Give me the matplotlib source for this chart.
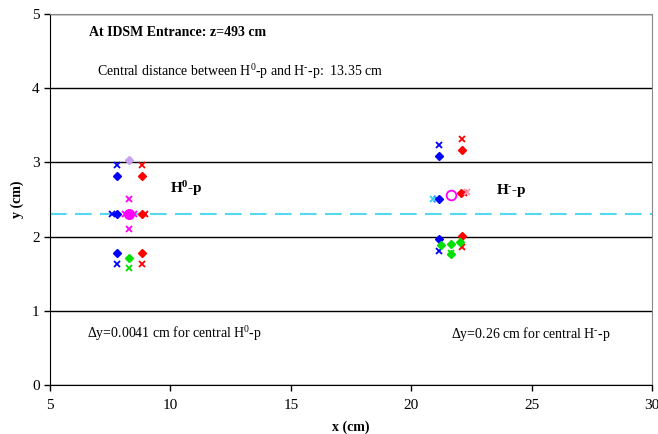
import matplotlib
matplotlib.use("Agg")
import matplotlib.pyplot as plt

plt.rcParams["font.family"] = ["Liberation Serif", "DejaVu Serif"]
plt.rcParams["mathtext.fontset"] = "custom"
plt.rcParams["mathtext.rm"] = "Liberation Serif"
plt.rcParams["mathtext.bf"] = "Liberation Serif:bold"
plt.rcParams["mathtext.it"] = "Liberation Serif:italic"

# H0-p beamlets (left group)
h0_blue_x = [7.79, 7.59, 7.79]
h0_blue_y = [2.96, 2.30, 1.63]
h0_blue_d_x = [7.79, 7.79, 7.79]
h0_blue_d_y = [2.82, 2.30, 1.78]
h0_red_x = [8.82, 8.96, 8.82]
h0_red_y = [2.96, 2.30, 1.63]
h0_red_d_x = [8.82, 8.82, 8.82]
h0_red_d_y = [2.82, 2.30, 1.78]
h0_mag_x = [8.29, 8.11, 8.49, 8.29]
h0_mag_y = [2.51, 2.30, 2.30, 2.10]
h0_lav_x = [8.29]
h0_lav_y = [3.03]
h0_green_d_x = [8.29]
h0_green_d_y = [1.71]
h0_green_x = [8.29]
h0_green_y = [1.58]
h0_center = (8.29, 2.30)

# H-p beamlets (right group)
hm_blue_x = [21.15, 21.07, 21.15]
hm_blue_y = [3.24, 2.51, 1.81]
hm_blue_d_x = [21.15, 21.15, 21.15]
hm_blue_d_y = [3.09, 2.51, 1.97]
hm_cyan_x = [20.92]
hm_cyan_y = [2.51]
hm_red_x = [22.12, 22.17, 22.10]
hm_red_y = [3.32, 2.59, 1.86]
hm_red_d_x = [22.10, 22.05, 22.10]
hm_red_d_y = [3.16, 2.59, 2.01]
hm_pink_x = [22.30]
hm_pink_y = [2.60]
hm_green_d_x = [21.25, 21.64, 22.03, 21.64]
hm_green_d_y = [1.88, 1.90, 1.92, 1.76]
hm_green_x = [21.64]
hm_green_y = [1.78]
hm_center = (21.64, 2.56)

ref_y = 2.30

fig = plt.figure(figsize=(6.58, 4.34), dpi=100)
ax = fig.add_axes([0.076, 0.113, 0.915, 0.855])

ax.axhline(ref_y, color="#55d8f0", lw=1.5, dashes=(8, 4), zorder=2)

ms = 5
ds = 4
ax.plot(h0_blue_x, h0_blue_y, "x", color="blue", ms=ms, mew=1.3, ls="none")
ax.plot(h0_blue_d_x, h0_blue_d_y, "D", color="blue", ms=ds, ls="none")
ax.plot(h0_red_x, h0_red_y, "x", color="red", ms=ms, mew=1.3, ls="none")
ax.plot(h0_red_d_x, h0_red_d_y, "D", color="red", ms=ds, ls="none")
ax.plot(h0_mag_x, h0_mag_y, "x", color="magenta", ms=ms, mew=1.3, ls="none")
ax.plot(h0_lav_x, h0_lav_y, "D", color="#c8a0f0", ms=ds, ls="none")
ax.plot(h0_green_d_x, h0_green_d_y, "D", color="#00e000", ms=ds, ls="none")
ax.plot(h0_green_x, h0_green_y, "x", color="#00e000", ms=ms, mew=1.3, ls="none")
ax.plot([h0_center[0]], [h0_center[1]], "o", color="magenta", ms=7, ls="none")

ax.plot(hm_blue_x, hm_blue_y, "x", color="blue", ms=ms, mew=1.3, ls="none")
ax.plot(hm_blue_d_x, hm_blue_d_y, "D", color="blue", ms=ds, ls="none")
ax.plot(hm_cyan_x, hm_cyan_y, "x", color="#30d0f0", ms=ms, mew=1.3, ls="none")
ax.plot(hm_red_x, hm_red_y, "x", color="red", ms=ms, mew=1.3, ls="none")
ax.plot(hm_red_d_x, hm_red_d_y, "D", color="red", ms=ds, ls="none")
ax.plot(hm_pink_x, hm_pink_y, "x", color="#ff90b0", ms=ms, mew=1.3, ls="none")
ax.plot(hm_green_d_x, hm_green_d_y, "D", color="#00e000", ms=ds, ls="none")
ax.plot(hm_green_x, hm_green_y, "x", color="#00e000", ms=ms, mew=1.3, ls="none")
ax.plot([hm_center[0]], [hm_center[1]], "o", mfc="none", mec="magenta",
        ms=7, mew=1.3, ls="none")

ax.set_xlim(5, 30)
ax.set_ylim(0, 5)
ax.set_xticks([5, 10, 15, 20, 25, 30])
ax.set_yticks([0, 1, 2, 3, 4, 5])
ax.yaxis.grid(True, color="black", lw=1)
ax.set_axisbelow(True)
ax.tick_params(labelsize=11, direction="out", length=4, width=1, color="black")
ax.tick_params(axis="x", pad=6)
for s in ["top", "right"]:
    ax.spines[s].set_color("#888888")
ax.set_xlabel("x (cm)", fontsize=10, fontweight="bold", labelpad=6)
ax.set_ylabel("y (cm)", fontsize=10, fontweight="bold", labelpad=6)

sup0 = r"$^{\mathrm{0}}$"
supm = r"$^{\text{-}}$"
ax.text(6.6, 4.75, "At IDSM Entrance: z=493 cm", fontsize=10,
        fontweight="bold", va="center")
ax.text(6.95, 4.22, "Central distance between H" + sup0 + "-p and H" + supm
        + "-p:  13.35 cm", fontsize=10, va="center")
ax.text(10.0, 2.64, r"$\mathbf{H^{0}}$-p", fontsize=11, fontweight="bold",
        va="center")
ax.text(23.5, 2.62, r"$\mathbf{H^{\text{-}}}$-p", fontsize=11, fontweight="bold",
        va="center")
ax.text(6.55, 0.69, r"$\Delta$y=0.0041 cm for central H" + sup0 + "-p",
        fontsize=10, va="center")
ax.text(21.65, 0.69, r"$\Delta$y=0.26 cm for central H" + supm + "-p",
        fontsize=10, va="center")

fig.savefig("out.png", dpi=100)
